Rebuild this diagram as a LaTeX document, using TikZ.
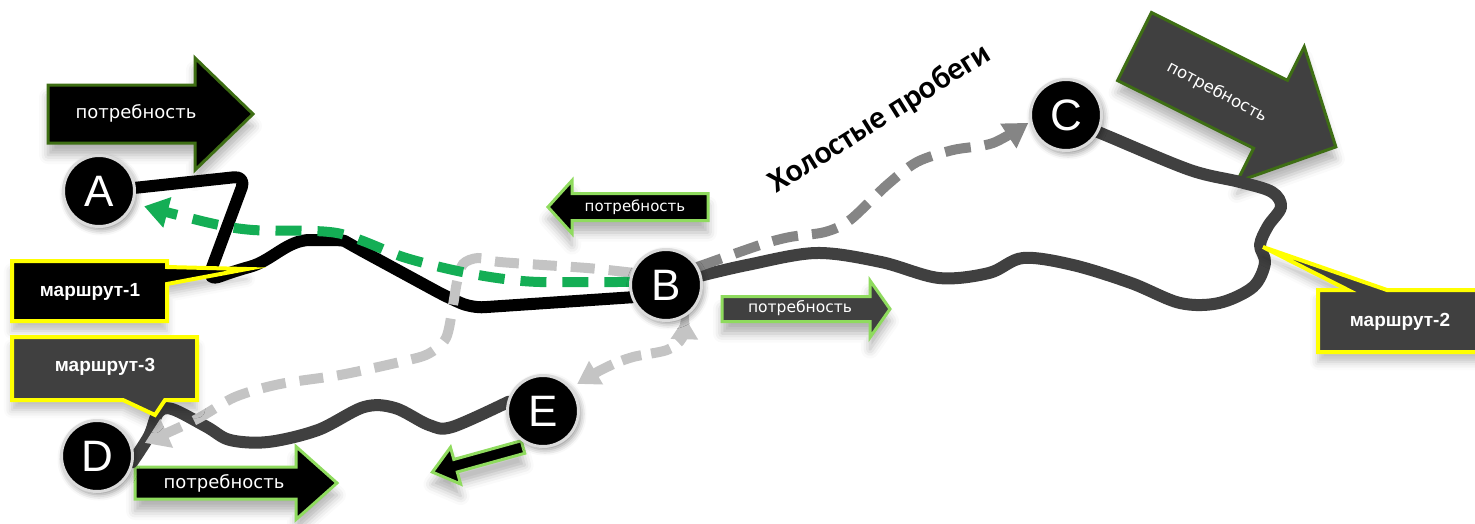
\documentclass[tikz,border=0pt]{standalone}
\usepackage{fontspec}
\setmainfont{Liberation Sans}
\newfontfamily\needfont{DejaVu Sans}
\newfontfamily\titlefont{Carlito}
\usetikzlibrary{arrows.meta,shadows.blur}
\definecolor{dkgray}{HTML}{404040}
\definecolor{dkgreen}{HTML}{3E6E14}
\definecolor{ltgreen}{HTML}{8FDB5E}
\definecolor{ylw}{HTML}{FFFF00}
\definecolor{dgreen}{HTML}{14AE55}
\definecolor{lgray}{HTML}{C4C4C4}
\definecolor{mgray}{HTML}{858585}
% style, x, y, screen angle (clockwise), length, body width, head width, head length
\newcommand\fatarrow[8]{%
  \begin{scope}[shift={(#2,#3)},rotate=-#4]
    \path[#1] (0,-#6/2) -- ({#5-#8},-#6/2) -- ({#5-#8},-#7/2) -- (#5,0)
      -- ({#5-#8},#7/2) -- ({#5-#8},#6/2) -- (0,#6/2) -- cycle;
  \end{scope}}
\tikzset{
  shd/.style={blur shadow={shadow xshift=0pt,shadow yshift=-12pt,shadow blur radius=9pt,shadow opacity=30}},
  needdark/.style={fill=black,draw=dkgreen,line width=3pt,line join=miter,shd},
  needdarkgray/.style={fill=dkgray,draw=dkgreen,line width=3pt,line join=miter,shd},
  needlight/.style={fill=black,draw=ltgreen,line width=3pt,line join=miter,shd},
  needlightgray/.style={fill=dkgray,draw=ltgreen,line width=3pt,line join=miter,shd},
  needtext/.style={text=white,inner sep=0pt},
  spot/.style={circle,minimum size=71pt,inner sep=0pt},
  stop/.style={circle,fill=black,draw=black!14,line width=3pt,minimum size=71pt,inner sep=0pt,
    text=white,font=\fontsize{44}{44}\selectfont,
    blur shadow={shadow xshift=2pt,shadow yshift=-3pt,shadow blur radius=6pt,shadow opacity=45}},
  routeA/.style={draw=black,line width=12pt,line cap=round,line join=round},
  routeB/.style={draw=dkgray,line width=12pt,line cap=round,line join=round},
  greendash/.style={draw=dgreen,line width=10pt,dash pattern=on 26pt off 16pt},
  lgraydash/.style={draw=lgray,line width=10pt,dash pattern=on 24pt off 14pt},
  mgraydash/.style={draw=mgray,line width=10pt,dash pattern=on 26pt off 14pt},
  callblack/.style={fill=black,draw=ylw,line width=4pt,line join=miter,
    blur shadow={shadow xshift=0pt,shadow yshift=-10pt,shadow blur radius=8pt,shadow opacity=25}},
  callgray/.style={fill=dkgray,draw=ylw,line width=4pt,line join=miter,
    blur shadow={shadow xshift=0pt,shadow yshift=-10pt,shadow blur radius=8pt,shadow opacity=25}},
  calltext/.style={text=white,font=\bfseries\fontsize{19}{19}\selectfont,inner sep=0pt},
}
\begin{document}
\begin{tikzpicture}[x=1pt,y=-1pt]
\useasboundingbox (0,0) rectangle (1475,523);

% stop positions
\node[spot] (A) at (99,191) {};
\node[spot] (B) at (666,285) {};
\node[spot] (C) at (1066,115) {};
\node[spot] (D) at (97,456) {};
\node[spot] (E) at (543,411) {};

% demand arrows
\fatarrow{needdark}{48}{114}{0}{205}{58}{112}{58}
\fatarrow{needlight}{708}{207}{180}{160}{27}{53}{24}
\fatarrow{needlightgray}{722}{309}{0}{168}{25}{57}{20}
\fatarrow{needlight}{135}{483}{0}{202}{32}{73}{41}
\fatarrow{needlight}{523}{447}{164.5}{94}{13}{38}{24}
\fatarrow{needdarkgray}{1134.5}{46.5}{26.5}{225}{76}{151}{73}

\node[needtext,font=\needfont\fontsize{18}{18}\selectfont] (n1) at (136,113) {потребность};
\node[needtext,font=\needfont\fontsize{15}{15}\selectfont] (n2) at (635,207) {потребность};
\node[needtext,font=\needfont\fontsize{15.5}{15.5}\selectfont] (n3) at (800,308) {потребность};
\node[needtext,font=\needfont\fontsize{18}{18}\selectfont] (n4) at (224,483) {потребность};
\node[needtext,font=\needfont\fontsize{16.5}{16.5}\selectfont,rotate=-28] (n5) at (1217,92) {потребность};

% routes
\draw[routeA,rounded corners=12pt] (A.5) -- (246,176) -- (207,281) -- (238,270)
  to[out=15,in=180] (322,240) to[out=0,in=150] (355,247) -- (447,297) -- (472,308) -- (B.200);
\draw[routeB] plot[smooth,tension=0.55] coordinates {(C.-28) (1110,137) (1190,170) (1240,182)
  (1272,192) (1281,207) (1268,226) (1260,245) (1265,263) (1253,287) (1219,303) (1180,303)
  (1131,283) (1073,265) (1023,258) (989,273) (939,278) (881,262) (816,253) (747,265) (B.15)};
\draw[routeB] plot[smooth,tension=0.55] coordinates {(D.-10) (149,436) (158,413) (172,409)
  (207,427) (230,440) (268,442) (318,430) (364,407) (395,408) (429,425) (452,427) (E.165)};

% empty runs
\draw[lgraydash,shorten >=14pt,-{Triangle[length=24pt,width=30pt]}] plot[smooth,tension=0.5]
  coordinates {(B.160) (587,268) (500,262) (478,258) (463,264) (457,282) (453,305) (446,338)
  (428,354) (400,362) (340,375) (280,384) (235,397) (195,420) (D.12)};
\draw[greendash,shorten >=12pt,-{Triangle[length=24pt,width=30pt]}] plot[smooth,tension=0.5]
  coordinates {(B.175) (540,282) (497,278) (453,270) (403,257) (337,233) (253,230) (210,223) (A.-20)};
\draw[mgraydash,shorten >=3pt,-{Triangle[length=24pt,width=28pt]}] plot[smooth,tension=0.5]
  coordinates {(B.30) (760,245) (790,237) (825,232) (850,220) (887,185) (917,162) (953,150)
  (993,143) (C.190)};
\draw[lgraydash,dash pattern=on 20pt off 10pt,shorten >=2pt,shorten <=8pt,
  {Triangle[length=22pt,width=26pt]}-{Triangle[length=22pt,width=26pt]}] plot[smooth,tension=0.5]
  coordinates {(E.40) (607,367) (633,357) (667,350) (682,338) (B.-58)};

% stops drawn on top
\node[stop] (Av) at (A) {A};
\node[stop] (Bv) at (B) {B};
\node[stop] (Cv) at (C) {C};
\node[stop] (Dv) at (D) {D};
\node[stop] (Ev) at (E) {E};

% route callouts
\path[callblack] (12,261) -- (167,261) -- (167,267) -- (247,269) -- (167,284) -- (167,321)
  -- (12,321) -- cycle;
\node[calltext] (m1) at (90,292) {маршрут-1};
\path[callgray] (1318,290) -- (1348,290) -- (1263,247) -- (1387,290) -- (1490,290)
  -- (1490,352) -- (1318,352) -- cycle;
\node[calltext] (m2) at (1400,322) {маршрут-2};
\path[callgray] (12,337) -- (197,337) -- (197,400) -- (165,400) -- (155,415) -- (123,400)
  -- (12,400) -- cycle;
\node[calltext] (m3) at (105,367) {маршрут-3};

% title
\node[font=\titlefont\bfseries\fontsize{32}{32}\selectfont,rotate=32,inner sep=0pt] (idle)
  at (880,119) {Холостые пробеги};
\end{tikzpicture}
\end{document}
